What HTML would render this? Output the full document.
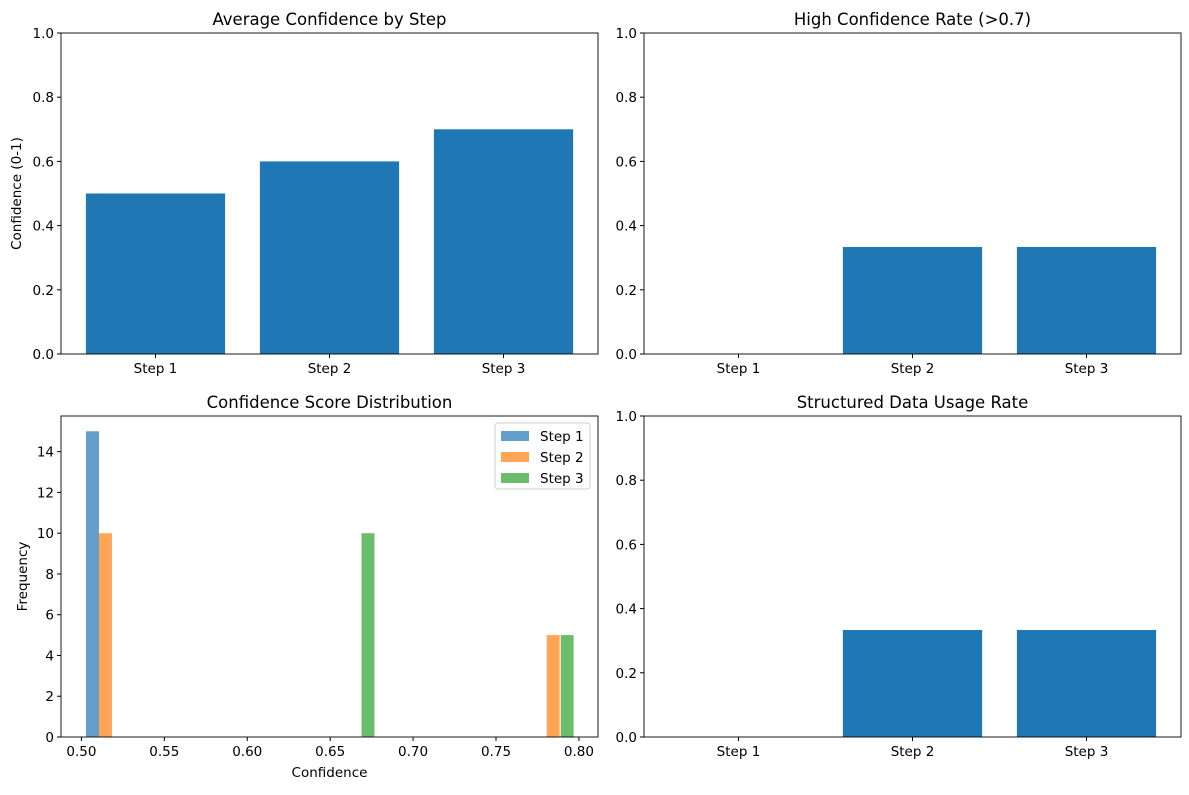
<!DOCTYPE html>
<html><head><meta charset="utf-8"><style>
body{margin:0;background:#fff;}
svg{font-family:"DejaVu Sans","Liberation Sans",sans-serif;}
</style></head><body>
<svg id="fig" width="1189" height="790" xmlns="http://www.w3.org/2000/svg"></svg>
<script>
const stepLabels = ["Step 1","Step 2","Step 3"];
const avgConfidence = [0.5, 0.6, 0.7];
const highConfRate = [0, 0.3333, 0.3333];
const structuredRate = [0, 0.3333, 0.3333];
const unitTicks = [0, 0.2, 0.4, 0.6, 0.8, 1.0];
const unitTickLabels = ["0.0","0.2","0.4","0.6","0.8","1.0"];
// histogram: per series bar left edges and counts
const histBarWidth = 0.0078;
const histStep1Left = [0.5028];
const histStep1Count = [15];
const histStep2Left = [0.5106, 0.7806];
const histStep2Count = [10, 5];
const histStep3Left = [0.6689, 0.7890];
const histStep3Count = [10, 5];
const histXTicks = [0.5,0.55,0.6,0.65,0.7,0.75,0.8];
const histXTickLabels = ["0.50","0.55","0.60","0.65","0.70","0.75","0.80"];
const histYTicks = [0,2,4,6,8,10,12,14];
const histXRange = [0.4877, 0.8115];
const histYMax = 15.75;
const barXRange = [-0.543, 2.543];

const svg = document.getElementById('fig');
const NS = "http://www.w3.org/2000/svg";
function mk(tag, attrs, parent){
  const e = document.createElementNS(NS, tag);
  for (const k in attrs) e.setAttribute(k, attrs[k]);
  (parent||svg).appendChild(e);
  return e;
}
function txt(s, x, y, size, anchor, parent, rot){
  const t = mk('text', {x:x, y:y, 'font-size':size, 'text-anchor':anchor||'middle', fill:'#000'}, parent);
  if (rot) t.setAttribute('transform', `rotate(${rot} ${x} ${y})`);
  t.textContent = s;
  return t;
}

function barPanel(name, L, T, R, B, title, values, ylabel){
  const g = mk('g', {});
  
  
  const xs = v => L + (v - barXRange[0]) / (barXRange[1] - barXRange[0]) * (R - L);
  const ys = v => B - v * (B - T);
  values.forEach((v, i) => {
    const r = mk('rect', {x: xs(i - 0.4), y: ys(v), width: xs(i + 0.4) - xs(i - 0.4), height: B - ys(v), fill: '#1f77b4'}, g);
    
    
  });
  mk('rect', {x: L, y: T, width: R - L, height: B - T, fill: 'none', stroke: '#000', 'stroke-width': 0.9}, g);
  unitTicks.forEach((t, i) => {
    mk('line', {x1: L - 4, x2: L, y1: ys(t), y2: ys(t), stroke: '#000'}, g);
    txt(unitTickLabels[i], L - 7, ys(t) + 5, 13.5, 'end', g);
  });
  stepLabels.forEach((s, i) => {
    mk('line', {x1: xs(i), x2: xs(i), y1: B, y2: B + 4, stroke: '#000'}, g);
    txt(s, xs(i), B + 19, 13.5, 'middle', g);
  });
  const tt = txt(title, (L + R) / 2, T - 8, 16.5, 'middle', g);
  
  
  if (ylabel) {
    const yl = txt(ylabel, L - 40, (T + B) / 2, 13.5, 'middle', g, -90);
    
    
  }
}
barPanel('avg-confidence-chart', 61, 33, 598, 354, 'Average Confidence by Step', avgConfidence, 'Confidence (0-1)');
barPanel('high-confidence-chart', 644, 33, 1181, 354, 'High Confidence Rate (>0.7)', highConfRate, null);
barPanel('structured-data-chart', 644, 416, 1181, 737, 'Structured Data Usage Rate', structuredRate, null);

// histogram
(function(){
  const L = 61, T = 416, R = 598, B = 737;
  const g = mk('g', {});
  
  
  const xs = v => L + (v - histXRange[0]) / (histXRange[1] - histXRange[0]) * (R - L);
  const ys = v => B - v / histYMax * (B - T);
  const series = [
    [histStep1Left, histStep1Count, '#629fcb'],
    [histStep2Left, histStep2Count, '#ffa556'],
    [histStep3Left, histStep3Count, '#6bbc6b']
  ];
  series.forEach((s, si) => {
    s[0].forEach((x0, i) => {
      const r = mk('rect', {x: xs(x0), y: ys(s[1][i]), width: xs(x0 + histBarWidth) - xs(x0), height: B - ys(s[1][i]), fill: s[2]}, g);
      
      
    });
  });
  mk('rect', {x: L, y: T, width: R - L, height: B - T, fill: 'none', stroke: '#000', 'stroke-width': 0.9}, g);
  histYTicks.forEach(t => {
    mk('line', {x1: L - 4, x2: L, y1: ys(t), y2: ys(t), stroke: '#000'}, g);
    txt(String(t), L - 7, ys(t) + 5, 13.5, 'end', g);
  });
  histXTicks.forEach((t, i) => {
    mk('line', {x1: xs(t), x2: xs(t), y1: B, y2: B + 4, stroke: '#000'}, g);
    txt(histXTickLabels[i], xs(t), B + 19, 13.5, 'middle', g);
  });
  const tt = txt('Confidence Score Distribution', (L + R) / 2, T - 8, 16.5, 'middle', g);
  
  
  const xl = txt('Confidence', (L + R) / 2, B + 40, 13.5, 'middle', g);
  
  
  const yl = txt('Frequency', L - 34, (T + B) / 2, 13.5, 'middle', g, -90);
  
  
  // legend
  const lg = mk('g', {}, g);
  
  
  mk('rect', {x: 495, y: 423, width: 95, height: 66, rx: 3, fill: '#fff', 'fill-opacity': 0.8, stroke: '#ccc'}, lg);
  series.forEach((s, i) => {
    const y = 431 + i * 21;
    const sw = mk('rect', {x: 501, y: y, width: 28, height: 10, fill: s[2]}, lg);
    
    
    const lt = txt(stepLabels[i], 540, y + 10, 13.5, 'start', lg);
    
    
  });
})();
</script>
</body></html>
